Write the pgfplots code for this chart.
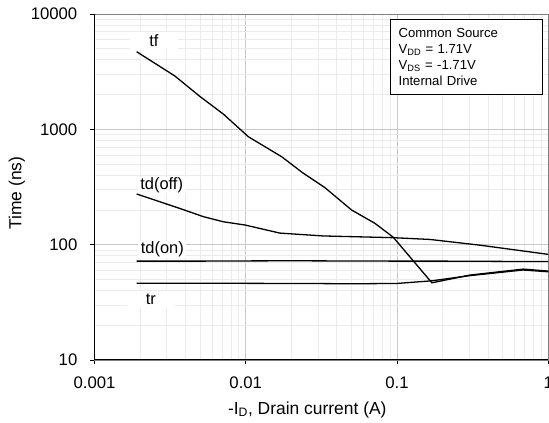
\documentclass[border=0pt]{standalone}
\usepackage{pgfplots}
\pgfplotsset{compat=1.18}
\usepackage{fontspec}
\setmainfont{Liberation Sans}
\definecolor{majgrid}{HTML}{C8C8C8}
\definecolor{mingrid}{HTML}{EBEBEB}
\definecolor{boxgray}{HTML}{7F7F7F}
\newcommand{\tickfont}{\fontsize{16.8}{19}\selectfont}
\begin{document}
\begin{tikzpicture}
\begin{axis}[
  scale only axis, width=453.8bp, height=346bp,
  xmode=log, ymode=log,
  xmin=0.001, xmax=1, ymin=10, ymax=10000,
  clip=false,
  axis line style={boxgray, line width=0.8bp},
  xtick={0.001,0.01,0.1,1}, xticklabels={0.001,0.01,0.1,1},
  ytick={10,100,1000,10000}, yticklabels={10,100,1000,10000},
  xtick pos=bottom, ytick pos=left,
  tick align=outside, major tick length=4.5bp, minor tick length=0pt,
  major tick style={black, line width=0.8bp},
  grid=both, major grid style={majgrid, line width=0.8bp}, minor grid style={mingrid, line width=0.8bp},
  /pgf/number format/assume math mode=true,
  xticklabel style={font=\tickfont, anchor=base, inner sep=0pt, yshift=-24bp},
  yticklabel style={font=\tickfont, anchor=east, inner sep=0pt, xshift=-12.5bp},
  xlabel={-I\textsubscript{D}, Drain current (A)},
  ylabel={Time (ns)},
  label style={font=\fontsize{17.5}{20}\selectfont},
  xlabel style={at={(rel axis cs:0.469,0)}, anchor=base, yshift=-54bp},
  ylabel style={at={(rel axis cs:-0.1708,0.4827)}, anchor=center},
]
% curve labels
\node[fill=white, minimum width=48bp, minimum height=17bp, inner sep=0pt, font=\fontsize{16.5}{18}\selectfont] at (axis cs:0.00247,5890) {tf};
\node[fill=white, minimum width=48bp, minimum height=17bp, inner sep=0pt, font=\fontsize{16.5}{18}\selectfont] at (axis cs:0.00278,329) {td(off)};
\node[fill=white, minimum width=48bp, minimum height=17bp, inner sep=0pt, font=\fontsize{16.5}{18}\selectfont] at (axis cs:0.00281,91.5) {td(on)};
\node[fill=white, minimum width=48bp, minimum height=17bp, inner sep=0pt, font=\fontsize{16.5}{18}\selectfont] at (axis cs:0.00236,33.7) {tr};
% tf
\addplot[black, line width=1.3bp] coordinates {
 (0.0019,4710) (0.0034,2900) (0.005,1918) (0.0071,1358) (0.0104,863)
 (0.0173,578) (0.0239,418) (0.0333,313) (0.050,200) (0.0715,153)
 (0.0944,116) (0.170,46.7) (0.303,54.5) (0.683,61.4) (1.0,59)
};
% td(off)
\addplot[black, line width=1.3bp] coordinates {
 (0.0019,275) (0.00367,206) (0.00524,175) (0.0071,158) (0.0099,148)
 (0.0168,126) (0.0325,119) (0.094,115) (0.165,111) (0.353,99) (1.0,82.4)
};
% td(on)
\addplot[black, line width=1.3bp] coordinates {
 (0.0019,72) (0.005,72) (0.01,72.3) (0.02,72.5) (0.05,72.2) (0.1,72) (0.2,72) (0.5,71.6) (1.0,71.5)
};
% tr
\addplot[black, line width=1.3bp] coordinates {
 (0.0019,46.2) (0.01,46.2) (0.03,46) (0.05,45.8) (0.1,46.1) (0.17,48.6) (0.3,53.8) (0.68,60.3) (1.0,58.2)
};
% legend box
\node[draw=black, line width=0.8bp, fill=white, anchor=north west, text width=135bp,
  minimum height=75.3bp, inner xsep=8.3bp, inner ysep=0pt, align=left,
  font=\fontsize{13.2}{16}\selectfont] at (rel axis cs:0.651,0.9855)
  {Common Source\\V\textsubscript{DD} = 1.71V\\V\textsubscript{DS} = -1.71V\\Internal Drive};
% black left and bottom spines
\draw[black, line width=1bp] (rel axis cs:0,1) -- (rel axis cs:0,0) -- (rel axis cs:1,0);
\coordinate (sw) at (rel axis cs:0,0);
\coordinate (ne) at (rel axis cs:1,1);
\end{axis}
\pgfresetboundingbox
\path[use as bounding box] ([xshift=-94.5bp,yshift=-63bp]sw) rectangle ([xshift=0.7bp,yshift=14bp]ne);
\end{tikzpicture}
\end{document}
